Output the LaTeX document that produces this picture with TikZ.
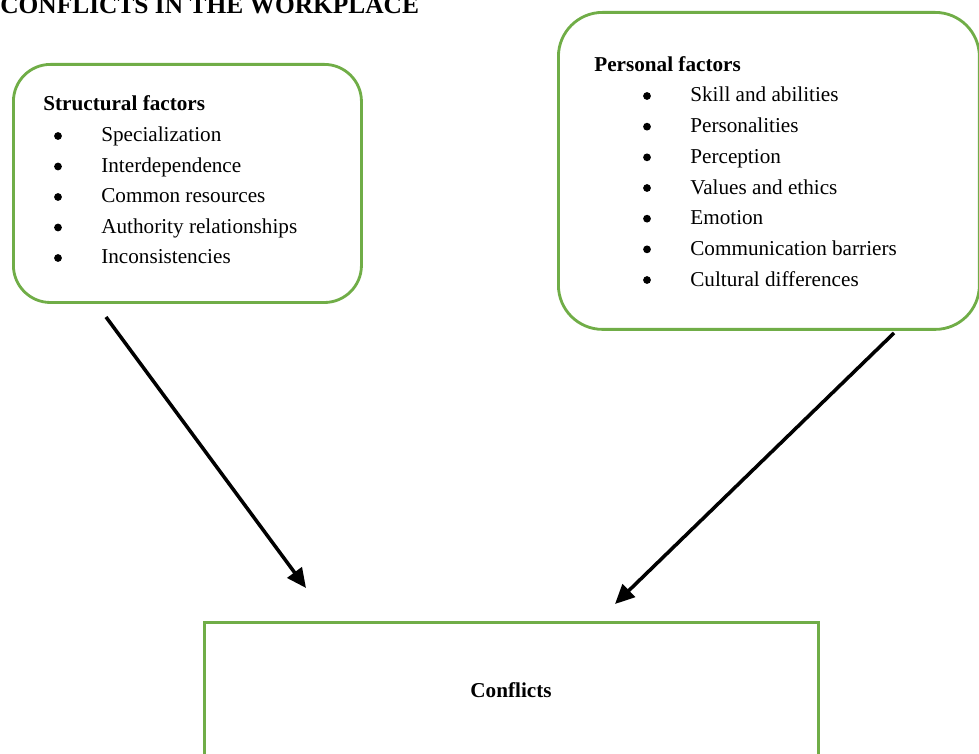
\documentclass[tikz,border=0pt]{standalone}
\usepackage{fontspec}
\setmainfont{Liberation Serif}
\usetikzlibrary{arrows.meta}
\definecolor{boxgreen}{RGB}{112,173,71}
\begin{document}
\begin{tikzpicture}[x=0.5666pt,y=-0.5666pt,
  txt/.style={anchor=base west,inner sep=0pt,font=\fontsize{12}{14}\selectfont},
  hd/.style={anchor=base west,inner sep=0pt,font=\fontsize{12}{14}\selectfont\bfseries},
  bul/.style={circle,fill=black,inner sep=0pt,minimum size=4.4pt},
  gbox/.style={draw=boxgreen,line width=1.6pt,inner sep=0pt,anchor=north west},
  conn/.style={line width=2pt,-{Triangle[length=11pt,width=10pt]}}]
\clip (0,0) rectangle (979,754);
% title
\node[anchor=base west,inner sep=0pt,font=\fontsize{14.4}{16}\selectfont\bfseries] (title) at (0,14) {CONFLICTS IN THE WORKPLACE};
% boxes
\node[gbox,rounded corners=21pt,minimum width=197.2pt,minimum height=134.9pt] (structural) at (12,63) {};
\node[gbox,rounded corners=25pt,minimum width=238.5pt,minimum height=179.6pt] (personal) at (557,11) {};
\node[gbox,minimum width=347.9pt,minimum height=110pt] (conflicts) at (203,621) {};
% left box text
\node[hd] (shead) at (43,111) {Structural factors};
\foreach \t [count=\i] in {Specialization,Interdependence,Common resources,Authority relationships,Inconsistencies}{
  \pgfmathsetmacro{\yy}{142+30.5*(\i-1)}
  \node[bul] (sb\i) at (58,\yy-6) {};
  \node[txt] (st\i) at (101,\yy) {\t};
}
% right box text
\node[hd] (phead) at (594,72) {Personal factors};
\foreach \t [count=\i] in {Skill and abilities,Personalities,Perception,Values and ethics,Emotion,Communication barriers,Cultural differences}{
  \pgfmathsetmacro{\yy}{102+30.67*(\i-1)}
  \node[bul] (pb\i) at (647,\yy-6) {};
  \node[txt] (pt\i) at (690,\yy) {\t};
}
% bottom label
\node[anchor=base,inner sep=0pt,font=\fontsize{12}{14}\selectfont\bfseries] (clabel) at (511,697) {Conflicts};
% arrows
\coordinate (a1) at (106,317);
\coordinate (a2) at (306,588);
\coordinate (b1) at (894,333);
\coordinate (b2) at (615,604);
\draw[conn] (a1) -- (a2);
\draw[conn] (b1) -- (b2);
\end{tikzpicture}
\end{document}
